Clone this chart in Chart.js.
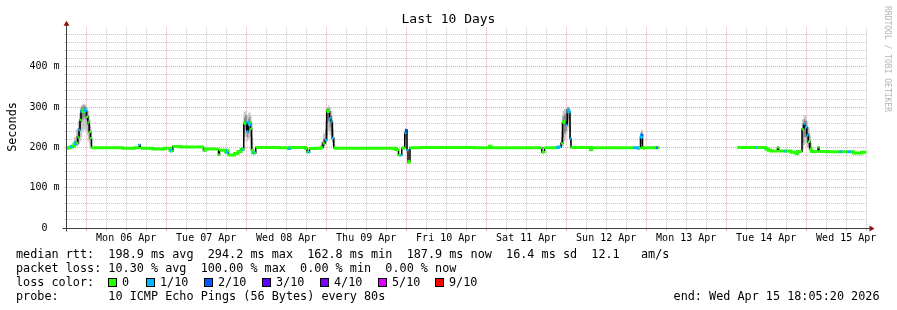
<!DOCTYPE html>
<html>
<head>
<meta charset="utf-8">
<title>Last 10 Days</title>
<script src="https://cdn.jsdelivr.net/npm/chart.js@4.4.1/dist/chart.umd.min.js"></script>
<style>
  html, body { margin:0; padding:0; background:#fff; }
  #wrap { position:relative; width:897px; height:310px; overflow:hidden; font-family:"DejaVu Sans Mono", monospace; color:#000; }
  #chart { position:absolute; left:0; top:0; }
  .txt { position:absolute; white-space:pre; font-size:11.8px; line-height:14px; }
  #title { left:0; width:897px; text-align:center; top:12px; font-size:13px; }
  #ylab { left:-38.5px; top:120px; width:100px; text-align:center; transform:rotate(-90deg); }
  #wm { position:absolute; left:826.5px; top:54px; width:120px; text-align:center; font-size:8px; line-height:10px; color:#b4b4b4; transform:rotate(90deg); white-space:pre; }
  .box { position:absolute; width:7px; height:7px; border:1px solid #000; }
</style>
</head>
<body>
<div id="wrap">
  <canvas id="chart" width="897" height="310"></canvas>
  <div class="txt" id="title">Last 10 Days</div>
  <div class="txt" id="ylab">Seconds</div>
  <div id="wm">RRDTOOL / TOBI OETIKER</div>
  <div class="txt" style="left:16px;top:247px">median rtt:  198.9 ms avg  294.2 ms max  162.8 ms min  187.9 ms now  16.4 ms sd  12.1   am/s</div>
  <div class="txt" style="left:16px;top:261px">packet loss: 10.30 % avg  100.00 % max  0.00 % min  0.00 % now</div>
  <div class="txt" style="left:16px;top:275px">loss color:</div>
  <div id="lossLegend"></div>
  <div class="txt" style="left:16px;top:289px">probe:       10 ICMP Echo Pings (56 Bytes) every 80s</div>
  <div class="txt" style="right:17.5px;top:289px">end: Wed Apr 15 18:05:20 2026</div>
</div>
<script>
// ---- data (hours since start, Apr 05 18:05:20) ----
const hours = [0,0.75,1.35,1.95,2.55,3.15,3.6,3.9,4.2,4.5,
  4.95,5.4,5.85,6.15,6.6,7.05,7.35,7.65,10.05,14.55,
  19.05,21.75,21.9,22.35,25.05,26.85,28.95,29.55,30.9,31.2,
  31.65,32.1,36.45,40.95,41.25,41.85,45.45,45.75,46.05,47.55,
  48,48.45,48.75,49.95,50.85,52.05,52.65,53.1,53.25,53.85,
  54.3,54.75,55.05,55.35,55.65,56.1,56.55,57,61.05,66.45,
  66.75,67.35,71.55,72,72.3,72.75,73.05,76.05,76.65,77.25,
  77.85,78.25,78.75,79.05,79.5,79.95,80.4,80.85,88.05,98.55,
  98.85,99.45,99.75,100.35,100.8,101.25,101.7,102,102.3,102.6,
  102.9,103.2,109.05,118.05,126.75,127.05,127.65,136.05,142.35,142.8,
  143.25,143.55,146.85,147.15,148.05,148.65,148.95,149.55,150,150.45,
  150.9,151.2,151.5,151.95,157.05,157.35,157.65,163.65,170.25,171.15,
  172.05,172.35,172.65,172.95,173.25,176.85,177.15,177.6,180,201.45,
  206.55,207,207.45,209.55,210,211.05,211.65,213.15,213.45,213.75,
  215.55,216.15,218.55,219.15,219.45,220.35,220.95,221.4,221.85,222.3,
  222.75,223.2,223.65,225.3,225.6,225.9,230.55,232.05,232.95,234.45,
  235.65,236.55,238.05,238.95,239.85];

const medianMs = [198,199,201,203,209,211,225,243,268,290,
  289,294,291,276,262,238,223,199,199,199,
  198,199,206,198,198,196,196,198,198,193,
  191,202,201,201,192,196,196,182,193,193,
  188,192,181,181,185,190,195,196,260,262,
  240,256,262,246,193,187,186,200,200,199,
  197,200,200,197,188,188,197,198,200,210,
  218,292,289,272,264,223,199,198,198,198,
  195,194,181,181,198,199,236,243,193,163,
  165,199,200,200,199,203,199,199,199,188,
  188,199,199,200,201,210,262,264,256,292,
  288,222,200,200,200,195,199,199,199,199,
  198,225,231,198,199,199,199,199,null,200,
  200,200,200,200,196,193,191,191,200,191,
  191,191,188,185,190,190,245,258,250,230,
  214,196,190,190,200,190,189,189,189,189,
  189,186,186,188,188];

const lossCount = [0,0,1,0,1,0,0,1,0,1,
  0,1,1,0,0,0,0,0,0,0,
  0,0,1,0,0,0,0,0,0,1,
  0,0,0,0,0,0,0,0,0,0,
  1,0,0,0,0,0,1,0,0,1,
  1,1,0,0,0,1,0,0,0,0,
  1,0,0,0,0,1,0,0,0,0,
  1,0,0,1,1,1,0,0,0,0,
  0,0,0,1,0,0,1,2,1,0,
  0,0,0,0,0,0,0,0,0,0,
  0,0,0,1,1,0,0,0,1,1,
  1,1,0,0,0,0,0,0,1,1,
  0,1,2,0,0,0,2,0,0,0,
  0,1,0,0,0,0,0,0,0,0,
  1,0,0,0,0,0,0,1,1,1,
  0,0,0,0,0,0,0,1,0,1,
  0,0,0,0,0];

// smoke (spread of the 10 pings) around the spikes
const smokeHours = [1.95,2.55,3.15,3.6,3.9,4.2,4.5,4.95,5.4,5.85,6.15,6.6,7.05,7.35,7.65,8.0,
  52.65,53.1,53.25,53.85,54.3,54.75,55.05,55.35,55.65,56.1,56.5,
  76.05,76.65,77.25,77.85,78.25,78.75,79.05,79.5,79.95,80.4,80.8,
  101.25,101.7,102.0,102.3,102.6,
  148.05,148.65,148.95,149.55,150.0,150.45,150.9,151.2,151.5,151.9,
  172.05,172.35,172.65,172.95,173.3,
  220.35,220.95,221.4,221.85,222.3,222.75,223.2,223.65];
const smokeMin = [198,200,202,205,208,215,225,240,245,240,230,215,205,200,198,null,
  193,194,215,225,215,220,225,210,190,186,null,
  197,198,200,205,230,240,230,220,205,198,null,
  198,205,215,185,null,
  199,200,205,215,230,250,240,205,198,null,
  197,200,205,197,null,
  189,195,205,210,200,195,190,189];
const smokeMax = [210,225,245,265,285,300,305,308,308,305,300,290,270,250,215,null,
  200,205,288,290,280,286,287,280,260,215,null,
  203,215,235,265,300,305,300,290,265,225,null,
  202,248,248,230,null,
  205,240,290,295,298,302,300,280,220,null,
  205,240,245,215,null,
  192,270,280,278,265,250,230,205];
const smokeLo = [200,204,206,212,222,240,262,270,275,268,255,240,220,210,199,null,
  194,195,235,245,225,235,243,225,192,186,null,
  198,199,204,210,260,265,250,240,212,198,null,
  199,220,230,190,null,
  200,203,225,235,240,270,262,212,199,null,
  197,210,215,198,null,
  189,210,225,225,210,200,192,189];
const smokeHi = [206,216,228,248,268,288,300,302,304,300,290,278,255,238,206,null,
  197,200,275,280,262,272,276,265,225,198,null,
  201,207,222,245,297,298,290,280,245,210,null,
  200,244,246,212,null,
  203,225,278,282,285,299,296,255,210,null,
  201,233,240,205,null,
  191,258,270,266,250,235,212,196];

const lossColors = ['#26ff00','#00b8ff','#0059ff','#5e00ff','#7e00ff','#dd00ff','#ff0000'];
const lossLabels = ['0','1/10','2/10','3/10','4/10','5/10','9/10'];
const dayLabels = ['Mon 06 Apr','Tue 07 Apr','Wed 08 Apr','Thu 09 Apr','Fri 10 Apr',
  'Sat 11 Apr','Sun 12 Apr','Mon 13 Apr','Tue 14 Apr','Wed 15 Apr'];
const yLabels = ['0  ','100 m','200 m','300 m','400 m'];
const spanHours = 240;
const firstMidnight = 5 + 54/60 + 40/3600; // Apr 06 00:00 relative to start

// ---- legend for loss colors ----
const boxLeft = [108,146,204,262,320,378,435];
const lg = document.getElementById('lossLegend');
lossLabels.forEach((lab, i) => {
  const b = document.createElement('div');
  b.className = 'box';
  b.style.left = boxLeft[i] + 'px';
  b.style.top = '277.5px';
  b.style.background = lossColors[i];
  lg.appendChild(b);
  const t = document.createElement('div');
  t.className = 'txt';
  t.style.left = (boxLeft[i] + 14) + 'px';
  t.style.top = '275px';
  t.textContent = lab;
  lg.appendChild(t);
});

const pts = (xs, ys) => xs.map((x, i) => ({x: x, y: ys[i]}));

const GRID_MINOR = '#c6c6c6';
const GRID_MAJOR = '#eba6a6';

const axisArrows = {
  id: 'axisArrows',
  afterDraw(chart) {
    const {ctx, chartArea: a} = chart;
    const x0 = Math.floor(a.left) + 0.5, yb = Math.floor(a.bottom) + 0.5;
    ctx.save();
    ctx.strokeStyle = '#404040';
    ctx.lineWidth = 1;
    ctx.beginPath();
    ctx.moveTo(x0, yb + 3); ctx.lineTo(x0, a.top - 3);
    ctx.moveTo(x0 - 4, yb); ctx.lineTo(a.right + 4, yb);
    ctx.stroke();
    ctx.fillStyle = '#8b1414';
    ctx.beginPath();
    ctx.moveTo(x0, a.top - 7); ctx.lineTo(x0 - 3, a.top - 2); ctx.lineTo(x0 + 3, a.top - 2);
    ctx.closePath(); ctx.fill();
    ctx.beginPath();
    ctx.moveTo(a.right + 8, yb); ctx.lineTo(a.right + 3, yb - 3); ctx.lineTo(a.right + 3, yb + 3);
    ctx.closePath(); ctx.fill();
    ctx.restore();
  }
};

const tickFont = {family: 'DejaVu Sans Mono', size: 10};

new Chart(document.getElementById('chart'), {
  type: 'line',
  data: {
    datasets: [
      { // median coloured by loss
        data: pts(hours, medianMs),
        order: 1,
        stepped: 'middle',
        spanGaps: false,
        borderWidth: 3,
        borderColor: lossColors[0],
        segment: {
          borderColor: c => (Math.abs(c.p0.y - c.p1.y) > 2.5) ? 'rgba(0,0,0,0)' : lossColors[lossCount[c.p0DataIndex]]
        },
        pointStyle: 'rect',
        pointRadius: 1.6,
        pointBorderWidth: 0,
        pointBackgroundColor: c => lossColors[lossCount[c.dataIndex]],
        fill: false
      },
      { // median black line
        data: pts(hours, medianMs),
        order: 2,
        stepped: 'middle',
        spanGaps: false,
        borderWidth: 1.5,
        borderColor: '#000',
        pointRadius: 0,
        fill: false
      },
      { data: pts(smokeHours, smokeLo), order: 4, stepped: 'middle', borderWidth: 0, borderColor: 'rgba(0,0,0,0)', pointRadius: 0, fill: false },
      { data: pts(smokeHours, smokeHi), order: 4, stepped: 'middle', borderWidth: 0, borderColor: 'rgba(0,0,0,0)', pointRadius: 0, fill: '-1', backgroundColor: '#8a8a8a' },
      { data: pts(smokeHours, smokeMin), order: 5, stepped: 'middle', borderWidth: 0, borderColor: 'rgba(0,0,0,0)', pointRadius: 0, fill: false },
      { data: pts(smokeHours, smokeMax), order: 5, stepped: 'middle', borderWidth: 0, borderColor: 'rgba(0,0,0,0)', pointRadius: 0, fill: '-1', backgroundColor: '#c8c8c8' }
    ]
  },
  options: {
    responsive: false,
    animation: false,
    events: [],
    layout: { padding: { left: 0, top: 27.7, right: 30.5, bottom: 62 } },
    plugins: { legend: { display: false }, tooltip: { enabled: false }, title: { display: false } },
    scales: {
      x: {
        type: 'linear',
        min: 0,
        max: spanHours,
        afterBuildTicks: s => {
          const t = [];
          for (let v = firstMidnight; v <= spanHours; v += 6) t.push({value: v});
          s.ticks = t;
        },
        afterFit: s => { s.height = 20; },
        ticks: {
          autoSkip: false, maxRotation: 0, minRotation: 0,
          padding: 1,
          color: '#000',
          font: tickFont,
          callback: (v, i) => (i % 4 === 2) ? dayLabels[(i - 2) / 4] : ''
        },
        grid: {
          color: c => (c.index % 4 === 0) ? GRID_MAJOR : GRID_MINOR,
          tickColor: c => (c.index % 4 === 0) ? GRID_MAJOR : GRID_MINOR,
          tickLength: 3,
          tickBorderDash: [],
          lineWidth: 1
        },
        border: { display: true, color: '#404040', dash: [1, 1] }
      },
      y: {
        type: 'linear',
        min: 0,
        max: 497,
        afterBuildTicks: s => {
          const t = [];
          for (let v = 0; v <= 480; v += 20) t.push({value: v});
          s.ticks = t;
        },
        afterFit: s => { s.width = 66.5; },
        ticks: {
          autoSkip: false,
          padding: 5,
          color: '#000',
          font: tickFont,
          callback: (v) => (v % 100 === 0) ? yLabels[v / 100] : ''
        },
        grid: {
          color: c => (c.index % 5 === 0) ? GRID_MAJOR : GRID_MINOR,
          tickColor: c => (c.index % 5 === 0) ? GRID_MAJOR : GRID_MINOR,
          tickLength: 2,
          tickBorderDash: [],
          lineWidth: 1
        },
        border: { display: true, color: '#404040', dash: [1, 1] }
      }
    }
  },
  plugins: [axisArrows]
});
</script>
</body>
</html>
